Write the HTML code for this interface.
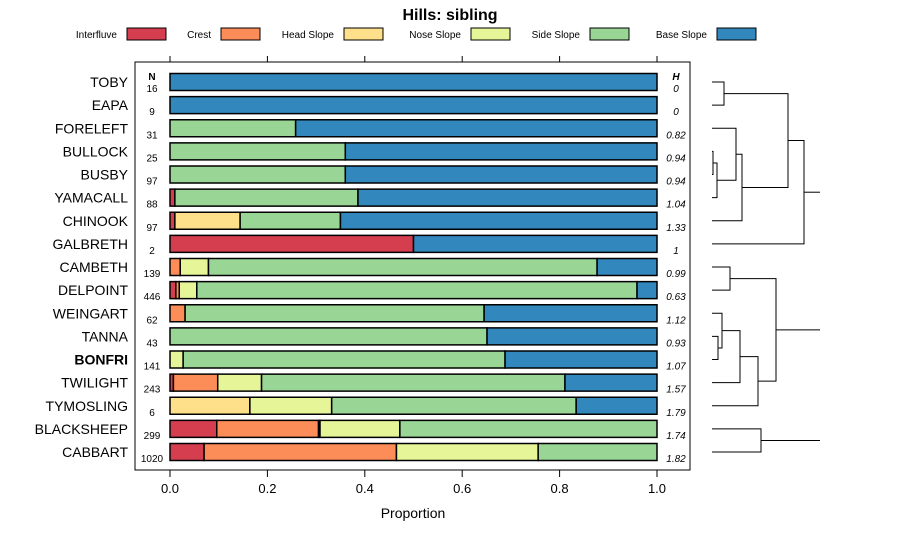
<!DOCTYPE html>
<html><head><meta charset="utf-8"><style>
body{margin:0;background:#fff;}
svg{display:block;font-family:"Liberation Sans",sans-serif;}
</style></head><body>
<svg id="chart" width="900" height="540">
<text x="450" y="20" text-anchor="middle" font-size="16" font-weight="bold">Hills: sibling</text>
<g id="legend"></g>
<rect x="135" y="62" width="555" height="408" fill="none" stroke="#000"/>
<g id="bars"></g>
<g id="axis"></g>
<text x="413" y="518" text-anchor="middle" font-size="14">Proportion</text>
<g id="dendro" stroke="#000" stroke-width="1" fill="none"></g>
</svg>
<script>
const categories=["Interfluve","Crest","Head Slope","Nose Slope","Side Slope","Base Slope"];
const colors=["#D53E4F","#FC8D59","#FEE08B","#E6F598","#99D594","#3288BD"];
const sites=["TOBY","EAPA","FORELEFT","BULLOCK","BUSBY","YAMACALL","CHINOOK","GALBRETH","CAMBETH","DELPOINT","WEINGART","TANNA","BONFRI","TWILIGHT","TYMOSLING","BLACKSHEEP","CABBART"];
const nValues=[16,9,31,25,97,88,97,2,139,446,62,43,141,243,6,299,1020];
const hValues=["0","0","0.82","0.94","0.94","1.04","1.33","1","0.99","0.63","1.12","0.93","1.07","1.57","1.79","1.74","1.82"];
const interfluve=[0,0,0,0,0,.01,.01,.5,0,.012,0,0,0,.007,0,.096,.07];
const crest=[0,0,0,0,0,0,0,0,.021,.007,.031,0,0,.091,0,.209,.395];
const headSlope=[0,0,0,0,0,0,.134,0,0,0,0,0,0,0,.164,.003,0];
const noseSlope=[0,0,0,0,0,0,0,0,.058,.036,0,0,.027,.09,.168,.164,.291];
const sideSlope=[0,0,.258,.36,.36,.376,.206,0,.798,.904,.614,.651,.661,.623,.502,.528,.244];
const baseSlope=[1,1,.742,.64,.64,.614,.65,.5,.123,.041,.355,.349,.312,.189,.166,0,0];
const ticks=[0,0.2,0.4,0.6,0.8,1.0];
const tickLabels=["0.0","0.2","0.4","0.6","0.8","1.0"];
const series=[interfluve,crest,headSlope,noseSlope,sideSlope,baseSlope];
const NS="http://www.w3.org/2000/svg";
const X=v=>170+v*487;
const Y=i=>82+i*23.125;
function mk(tag,attrs,parent,text){const e=document.createElementNS(NS,tag);for(const k in attrs)e.setAttribute(k,attrs[k]);if(text!==undefined)e.textContent=text;parent.appendChild(e);return e;}
// legend
const lg=document.getElementById('legend');
const boxX=[127,221,344,471,590,717];
categories.forEach((c,i)=>{
 const t=mk('text',{x:boxX[i]-10,y:38,'text-anchor':'end','font-size':10},lg,c);
 
 
 const r=mk('rect',{x:boxX[i],y:28,width:39,height:12,fill:colors[i],stroke:'#000'},lg);
 
 
});
// bars
const bg=document.getElementById('bars');
let t=mk('text',{x:152,y:80,'text-anchor':'middle','font-size':10,'font-weight':'bold'},bg,'N');


t=mk('text',{x:676,y:80,'text-anchor':'middle','font-size':10,'font-weight':'bold','font-style':'italic'},bg,'H');


sites.forEach((s,i)=>{
 const y=Y(i);
 const l=mk('text',{x:128,y:y+5,'text-anchor':'end','font-size':14,'font-weight':s==='BONFRI'?'bold':'normal'},bg,s);
 
 
 const n=mk('text',{x:152,y:y+10,'text-anchor':'middle','font-size':10},bg,String(nValues[i]));
 
 
 const h=mk('text',{x:676,y:y+10,'text-anchor':'middle','font-size':10,'font-style':'italic'},bg,hValues[i]);
 
 
 let cum=0;
 series.forEach((arr,k)=>{
  const v=arr[i]; if(v<=0)return;
  const r=mk('rect',{x:X(cum),y:y-8.5,width:X(cum+v)-X(cum),height:17,fill:colors[k],stroke:'#000','stroke-width':1.5},bg);
  
  
  cum+=v;
 });
});
// axis
const ax=document.getElementById('axis');
ticks.forEach((v,i)=>{
 const x=X(v);
 mk('line',{x1:x,x2:x,y1:470,y2:477,stroke:'#000'},ax);
 mk('line',{x1:x,x2:x,y1:62,y2:56,stroke:'#000'},ax);
 const tl=mk('text',{x:x,y:493,'text-anchor':'middle','font-size':13},ax,tickLabels[i]);
 
 
});
// dendrogram
const dg=document.getElementById('dendro');
function seg(pts){mk('polyline',{points:pts.map(p=>p.join(',')).join(' ')},dg);}
function merge(y1,y2,x1a,x1b,xm){seg([[x1a,y1],[xm,y1],[xm,y2],[x1b,y2]]);return (y1+y2)/2;}
const L=712;
let a=merge(Y(0),Y(1),L,L,724);
let b=merge(Y(3),Y(4),L,L,713);
let c=merge(b,Y(5),713,L,717);
let d=merge(Y(2),c,L,717,736);
let e=merge(d,Y(6),736,L,742);
let f=merge(a,e,724,742,788);
let g=merge(f,Y(7),788,L,804);
seg([[804,g],[820,g]]);
let h=merge(Y(8),Y(9),L,L,730);
let m=merge(Y(11),Y(12),L,L,718);
let n=merge(Y(10),m,L,718,722);
let o=merge(n,Y(13),722,L,740);
let p=merge(o,Y(14),740,L,758);
let q=merge(h,p,730,758,776);
seg([[776,q],[820,q]]);
let r=merge(Y(15),Y(16),L,L,761);
seg([[761,r],[820,r]]);
</script>
</body></html>
